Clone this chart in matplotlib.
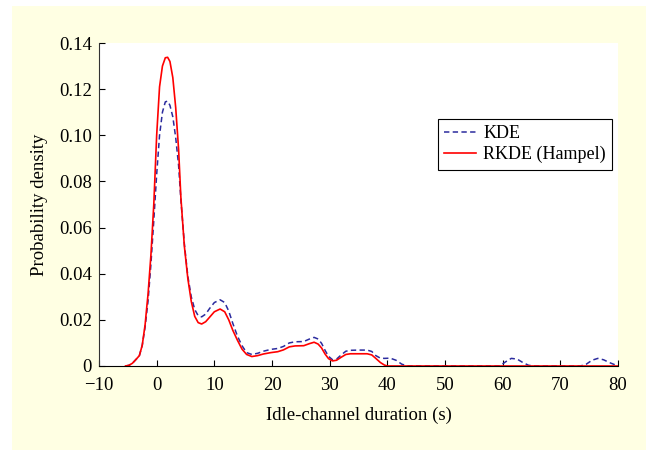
import matplotlib
matplotlib.use("Agg")
import matplotlib.pyplot as plt
from matplotlib.patches import Rectangle

# KDE curve (dashed blue)
kde_x = [-5.4, -4.8, -4.2, -3.6, -3.0, -2.5, -2.0, -1.5, -1.0, -0.5, 0.0, 0.5, 1.0, 1.5, 1.9,
         2.3, 2.8, 3.3, 3.8, 4.2, 4.8, 5.4, 6.0, 6.6, 7.2, 7.8, 8.5, 9.2, 10.0, 11.0, 11.8,
         12.5, 13.2, 14.0, 14.8, 15.6, 16.5, 17.5, 18.5, 19.8, 21.0, 22.0, 23.0, 24.0, 25.5,
         26.5, 27.3, 28.0, 28.6, 29.2, 29.8, 30.5, 31.2, 32.0, 32.8, 33.6, 35.0, 36.5, 37.3,
         38.0, 38.8, 39.5, 40.5, 41.5, 42.5, 43.5, 59.5, 60.5, 61.5, 62.5, 63.5, 64.5, 65.5,
         73.5, 74.5, 75.5, 76.5, 77.5, 78.5, 79.5, 80.0]
kde_y = [0.0, 0.0003, 0.0012, 0.0028, 0.0045, 0.009, 0.017, 0.028, 0.044, 0.063, 0.083, 0.100,
         0.110, 0.1145, 0.1148, 0.113, 0.108, 0.099, 0.087, 0.072, 0.053, 0.039, 0.030, 0.0245,
         0.0218, 0.0213, 0.0225, 0.025, 0.0275, 0.0287, 0.0275, 0.0238, 0.0185, 0.013, 0.0088,
         0.0058, 0.0050, 0.0055, 0.0064, 0.0072, 0.0076, 0.0085, 0.0100, 0.0105, 0.0106, 0.0117,
         0.0124, 0.0117, 0.0098, 0.0068, 0.0042, 0.0027, 0.0030, 0.0048, 0.0064, 0.0068, 0.0069,
         0.0069, 0.0063, 0.0045, 0.0034, 0.0033, 0.0034, 0.0025, 0.0008, 0.0, 0.0, 0.0018,
         0.0033, 0.0030, 0.0015, 0.0003, 0.0, 0.0, 0.0008, 0.0025, 0.0033, 0.0027, 0.0015,
         0.0005, 0.0]

# RKDE (Hampel) curve (solid red)
rkde_x = [-5.4, -4.8, -4.2, -3.6, -3.0, -2.5, -2.0, -1.7, -1.5, -1.0, -0.5, 0.0, 0.5, 1.0, 1.5,
          1.9, 2.3, 2.8, 3.3, 3.8, 4.2, 4.8, 5.4, 6.0, 6.6, 7.2, 7.8, 8.5, 9.2, 10.0, 11.0, 11.8,
          12.5, 13.2, 14.0, 14.8, 15.6, 16.5, 17.5, 18.5, 19.8, 21.0, 22.0, 23.0, 24.0, 25.5,
          26.5, 27.3, 28.0, 28.6, 29.2, 29.8, 30.5, 31.2, 32.0, 32.8, 33.6, 35.0, 36.5, 37.3,
          38.0, 38.8, 39.5, 40.0, 80.0]
rkde_y = [0.0, 0.0003, 0.0012, 0.0028, 0.0045, 0.009, 0.018, 0.026, 0.031, 0.048, 0.070, 0.100,
          0.121, 0.130, 0.1336, 0.1338, 0.132, 0.125, 0.112, 0.094, 0.073, 0.052, 0.038, 0.028,
          0.0215, 0.0188, 0.0182, 0.0192, 0.0212, 0.0235, 0.0247, 0.0235, 0.020, 0.0155, 0.0112,
          0.0073, 0.0050, 0.0041, 0.0045, 0.0052, 0.0058, 0.0062, 0.0070, 0.0083, 0.0087, 0.0088,
          0.0097, 0.0103, 0.0095, 0.0078, 0.0052, 0.0032, 0.0022, 0.0025, 0.0038, 0.0050, 0.0053,
          0.0053, 0.0053, 0.0048, 0.0033, 0.0015, 0.0004, 0.0, 0.0]

xticks = [-10, 0, 10, 20, 30, 40, 50, 60, 70, 80]
yticks = [0, 0.02, 0.04, 0.06, 0.08, 0.10, 0.12, 0.14]
ytick_labels = ["0", "0.02", "0.04", "0.06", "0.08", "0.10", "0.12", "0.14"]

plt.rcParams["font.family"] = ["Liberation Serif", "DejaVu Serif"]
plt.rcParams["font.size"] = 13.5

fig = plt.figure(figsize=(6.46, 4.5), dpi=100)
fig.patch.set_facecolor("white")
fig.patches.append(Rectangle((12 / 646, 0), 1, 444 / 450, transform=fig.transFigure,
                             facecolor="#FFFFE3", edgecolor="none", zorder=-10))

ax = fig.add_axes([99 / 646, 1 - 366 / 450, 519 / 646, 323 / 450])
ax.set_zorder(5)
ax.set_facecolor("white")

ax.plot(kde_x, kde_y, color="#2B2B9E", lw=1.1, ls=(0, (3.5, 2.2)), label="KDE")
ax.plot(rkde_x, rkde_y, color="#FF0000", lw=1.2, label="RKDE (Hampel)")

ax.set_xlim(-10, 80)
ax.set_ylim(0, 0.14)
ax.set_xticks(xticks)
ax.set_xticklabels(["\u221210"] + [str(t) for t in xticks[1:]])
ax.set_yticks(yticks)
ax.set_yticklabels(ytick_labels)
ax.tick_params(direction="in", length=4, width=0.8)
ax.tick_params(axis="x", pad=8)
ax.tick_params(axis="y", pad=5)

for s in ("top", "right"):
    ax.spines[s].set_visible(False)
for s in ("left", "bottom"):
    ax.spines[s].set_linewidth(0.8)
ax.spines["left"].set_color("#333333")

ax.set_xlabel("Idle-channel duration (s)", labelpad=9)
ax.set_ylabel("Probability density", labelpad=8)

leg = ax.legend(loc="upper left", bbox_to_anchor=((438 - 99) / 519, (366 - 119) / 323),
                borderaxespad=0, frameon=True, fancybox=False, framealpha=1,
                handlelength=1.75, handletextpad=0.4, borderpad=0.35, labelspacing=0.2,
                fontsize=13)
leg.get_frame().set_edgecolor("black")
leg.get_frame().set_linewidth(0.8)

fig.savefig("out.png", dpi=100, facecolor=fig.get_facecolor())
